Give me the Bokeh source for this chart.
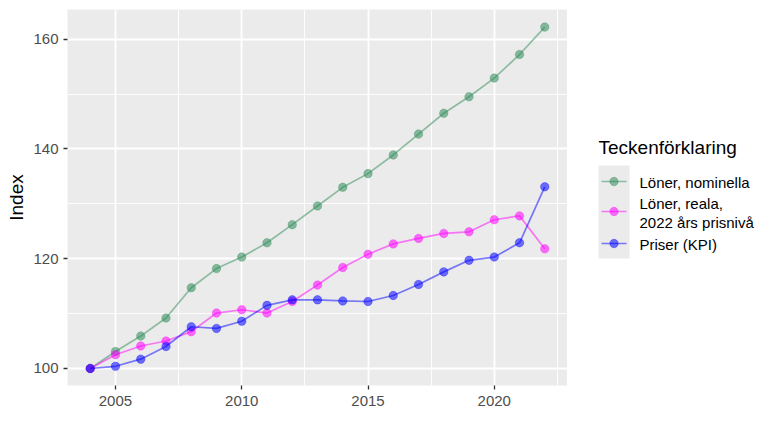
from bokeh.plotting import figure
from bokeh.layouts import row
from bokeh.models import SingleIntervalTicker, Range1d
from bokeh.core.properties import value
from bokeh.embed import file_html
from bokeh.resources import INLINE

years = list(range(2004, 2023))
nominal = [100, 103.1, 105.9, 109.2, 114.7, 118.2, 120.3, 122.9, 126.2, 129.6,
           133.0, 135.5, 138.9, 142.7, 146.5, 149.5, 152.9, 157.2, 162.2]
real = [100, 102.5, 104.1, 105.0, 106.7, 110.1, 110.7, 110.1, 112.2, 115.2,
        118.4, 120.8, 122.7, 123.7, 124.6, 124.9, 127.1, 127.8, 121.8]
kpi = [100, 100.4, 101.7, 104.0, 107.6, 107.3, 108.6, 111.5, 112.5, 112.5,
       112.3, 112.2, 113.3, 115.3, 117.6, 119.7, 120.3, 122.9, 133.1]

series_names = ["Löner, nominella", "Löner, reala,\n2022 års prisnivå", "Priser (KPI)"]
series_colors = ["#2E8B57", "#FF00FF", "#0000FF"]
legend_title = "Teckenförklaring"

FONT = "Liberation Sans"

# main panel
p = figure(frame_width=500, frame_height=376, output_backend="svg", toolbar_location=None,
           x_range=Range1d(2003.1, 2022.9), y_range=Range1d(96.9, 165.4),
           min_border_left=67, min_border_top=9, min_border_bottom=43, min_border_right=0,
           background_fill_color="#EBEBEB", border_fill_color="white", outline_line_color=None)

p.xaxis.ticker = SingleIntervalTicker(interval=5, num_minor_ticks=2)
p.yaxis.ticker = SingleIntervalTicker(interval=20, num_minor_ticks=2)
p.xgrid.ticker = p.xaxis.ticker
p.ygrid.ticker = p.yaxis.ticker

for g in (p.xgrid, p.ygrid):
    g.grid_line_color = "white"
    g.grid_line_width = 1.8
    g.minor_grid_line_color = "white"
    g.minor_grid_line_width = 0.9

for ax in (p.xaxis, p.yaxis):
    ax.axis_line_color = None
    ax.major_tick_line_color = "#333333"
    ax.major_tick_line_width = 1.3
    ax.major_tick_out = 4
    ax.major_tick_in = 0
    ax.minor_tick_line_color = None
    ax.major_label_text_font = FONT
    ax.major_label_text_font_size = "15px"
    ax.major_label_text_color = "#4D4D4D"
    ax.major_label_standoff = 5
p.xaxis.major_label_standoff = 6

p.yaxis.axis_label = "Index"
p.yaxis.axis_label_text_font = FONT
p.yaxis.axis_label_text_font_size = "19px"
p.yaxis.axis_label_text_font_style = "normal"
p.yaxis.axis_label_text_color = "black"
p.yaxis.axis_label_standoff = 3

for vals, col in zip([nominal, real, kpi], series_colors):
    p.line(years, vals, line_color=col, line_alpha=0.5, line_width=1.7)
    p.scatter(years, vals, size=8.5, fill_color=col, fill_alpha=0.55,
              line_color=col, line_alpha=0.3, line_width=1)

# legend panel: frame aligned with the main panel, ranges in page pixels (y down)
leg = figure(frame_width=205, frame_height=376, output_backend="svg", toolbar_location=None,
             x_range=Range1d(0, 205), y_range=Range1d(385, 9),
             x_axis_location=None, y_axis_location=None,
             min_border_left=0, min_border_right=0, min_border_top=9, min_border_bottom=43,
             outline_line_color=None, border_fill_color="white",
             background_fill_color="white")
leg.grid.visible = False

key_y = [181, 211, 243]
label_y = [181.5, 212.5, 244]

leg.text(x=[31], y=[147], text=[legend_title], text_font=value(FONT),
         text_font_size="19px", text_color="black", text_baseline="middle")
leg.quad(left=31, right=62, top=165, bottom=258, fill_color="#EBEBEB", line_color=None)
for ky, col in zip(key_y, series_colors):
    leg.line([34, 59], [ky, ky], line_color=col, line_alpha=0.5, line_width=1.7)
    leg.scatter([46.5], [ky], size=8.5, fill_color=col, fill_alpha=0.55,
                line_color=col, line_alpha=0.3, line_width=1)
leg.text(x=[72] * 3, y=label_y, text=series_names, text_font=value(FONT),
         text_font_size="15px", text_color="black", text_baseline="middle",
         text_line_height=1.13)

layout = row(p, leg)
open("out.html", "w").write(file_html(layout, INLINE))
